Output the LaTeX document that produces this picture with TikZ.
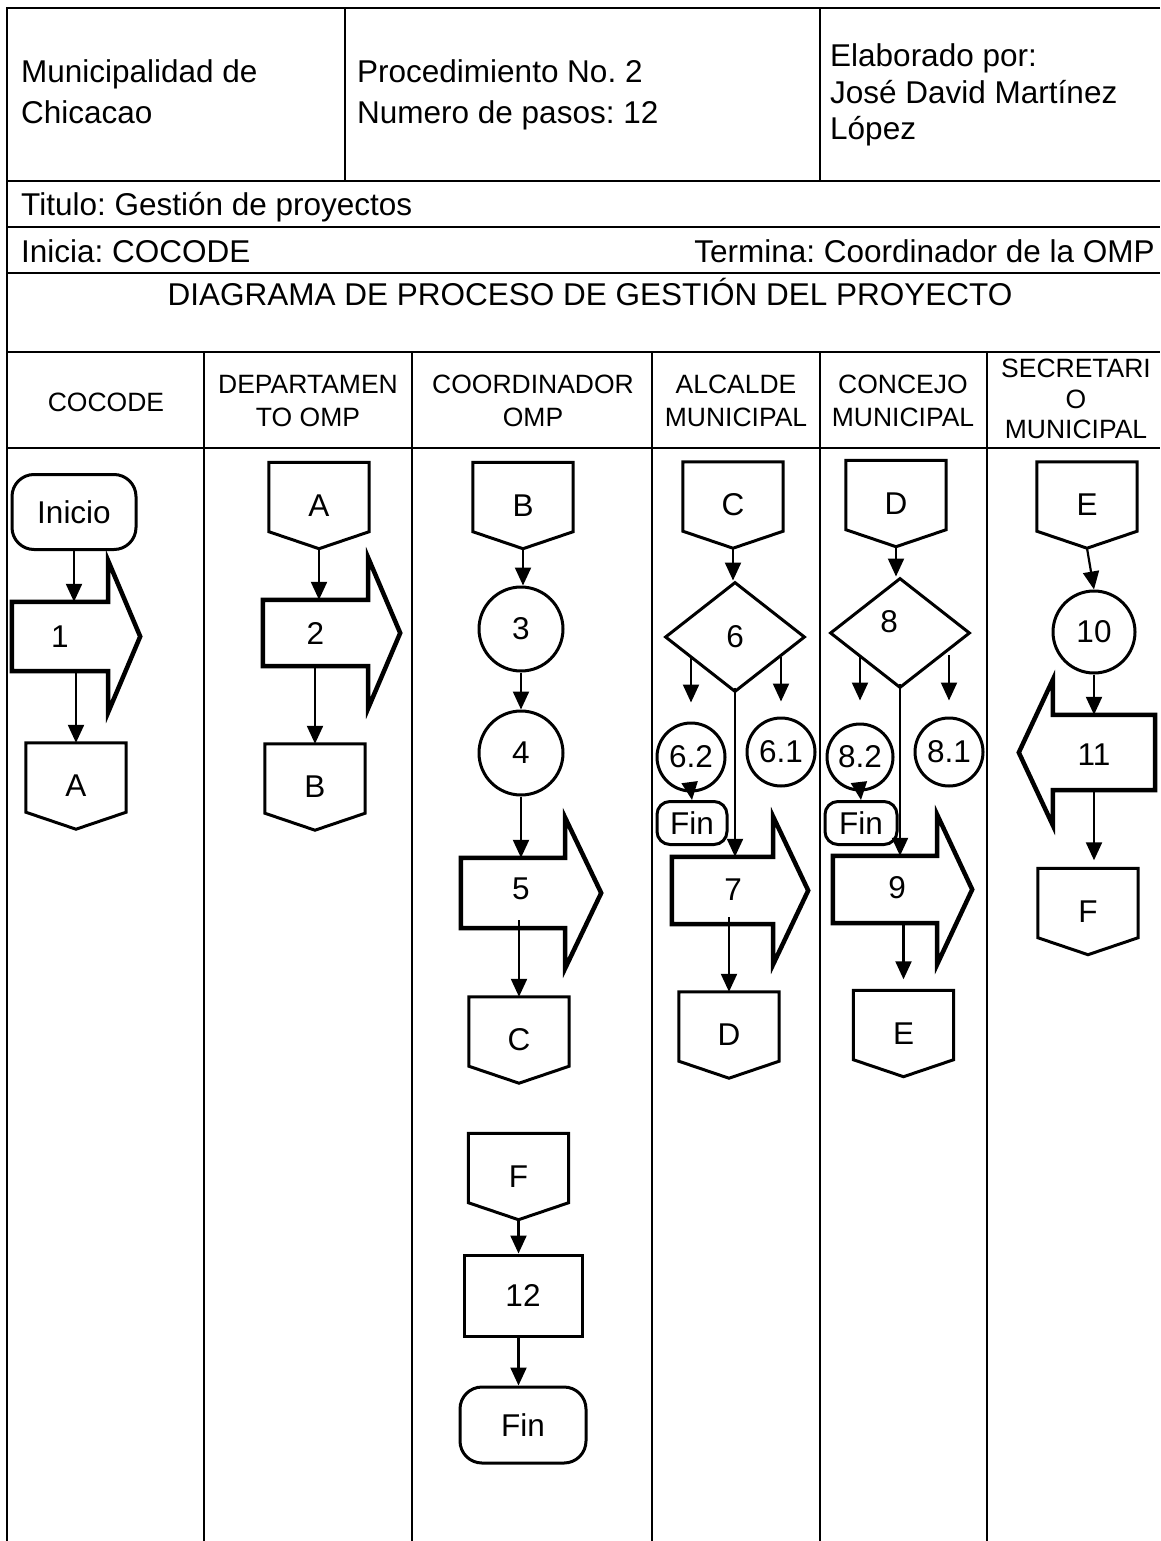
\documentclass[tikz,border=0pt]{standalone}
\usepackage{fontspec}
\setmainfont{Liberation Sans}
\usetikzlibrary{arrows.meta,shapes.geometric}
\frenchspacing
\newcommand\fbig{\fontsize{31.5}{36}\selectfont}
\newcommand\fhd{\fontsize{26.5}{32.5}\selectfont}
\newcommand\fhdb{\fontsize{26.5}{30.5}\selectfont}
\newcommand\offpg[1]{\draw[shp] (#1.north west) -- (#1.north east) -- ([yshift=17pt]#1.south east) -- (#1.south) -- ([yshift=17pt]#1.south west) -- cycle;}
\newcommand\rarr[3]{\draw[bigline] (#1.north west) -- (#1.north east) -- ([yshift=#2]#1.north east) -- ([xshift=#3]#1.east) -- ([yshift=-#2]#1.south east) -- (#1.south east) -- (#1.south west) -- cycle;}
\newcommand\larr[3]{\draw[bigline] (#1.north east) -- (#1.north west) -- ([yshift=#2]#1.north west) -- ([xshift=-#3]#1.west) -- ([yshift=-#2]#1.south west) -- (#1.south west) -- (#1.south east) -- cycle;}
\begin{document}
\begin{tikzpicture}[x=1pt,y=-1pt,
 tbl/.style={line width=2.4pt},
 shp/.style={line width=3pt, line join=miter},
 bigline/.style={line width=4.5pt, line join=miter},
 arr/.style={line width=2.2pt,-{Triangle[length=18pt,width=16pt]}},
 txt/.style={font=\fbig, inner sep=0pt},
 hd/.style={font=\fhd, align=center, inner sep=0pt},
 term/.style={draw, line width=3pt, rounded corners=22pt, inner sep=0pt, font=\fbig},
 offp/.style={inner sep=0pt, minimum width=100pt, minimum height=86pt, font=\fbig},
 circ/.style={circle, draw, line width=3pt, inner sep=0pt, font=\fbig},
 dia/.style={diamond, draw, line width=3pt, inner sep=0pt, minimum width=140pt, minimum height=110pt, font=\fbig},
 barrow/.style={inner sep=0pt, font=\fbig},
 box/.style={draw, line width=3pt, inner sep=0pt, font=\fbig}]
\useasboundingbox (0,0) rectangle (1160,1541);

% ---- table ----
\draw[tbl] (1160,8) -- (7,8) -- (7,1541);
\draw[tbl] (345,8) -- (345,181);
\draw[tbl] (820,8) -- (820,181);
\foreach \yy in {181,227,273,352,448} \draw[tbl] (7,\yy) -- (1160,\yy);
\foreach \xx in {204,412,652,820,987} \draw[tbl] (\xx,352) -- (\xx,1541);

% ---- header texts ----
\node[txt, anchor=base west] (h1a) at (21,83) {Municipalidad de};
\node[txt, anchor=base west] (h1b) at (21,124) {Chicacao};
\node[txt, anchor=base west] (h2a) at (357,83) {Procedimiento No. 2};
\node[txt, anchor=base west] (h2b) at (357,124) {Numero de pasos: 12};
\node[txt, anchor=base west] (h3a) at (830,67) {Elaborado por:};
\node[txt, anchor=base west] (h3b) at (830,104) {José David Martínez};
\node[txt, anchor=base west] (h3c) at (830,140) {López};
\node[txt, anchor=base west] (tit) at (21,215) {Titulo: Gestión de proyectos};
\node[txt, anchor=base west] (ini) at (21,262) {Inicia: COCODE};
\node[txt, anchor=base east] (ter) at (1155,262) {Termina: Coordinador de la OMP};
\node[txt, anchor=base] (diag) at (590,305) {DIAGRAMA DE PROCESO DE GESTIÓN DEL PROYECTO};

% ---- column headers ----
\node[hd] (col1) at (106,402) {COCODE};
\node[hd] (col2) at (308,401) {DEPARTAMEN\\TO OMP};
\node[hd] (col3) at (533,401) {COORDINADOR\\OMP};
\node[hd] (col4) at (736,401) {ALCALDE\\MUNICIPAL};
\node[hd] (col5) at (903,401) {CONCEJO\\MUNICIPAL};
\node[hd, font=\fhdb] (col6) at (1076,399) {SECRETARI\\O\\MUNICIPAL};

% ---- COCODE ----
\node[term, minimum width=124pt, minimum height=75pt] (inicio) at (74,512) {Inicio};
\node[barrow, minimum width=96pt, minimum height=69pt] (a1) at (60,636.5) {1};
\rarr{a1}{41pt}{32pt}
\node[offp] (A1) at (76,786) {A};
\offpg{A1}
\draw[arr] (inicio.south) -- (inicio.south |- a1.north);
\draw[arr] (A1.north |- a1.south) -- (A1.north);

% ---- DEPARTAMENTO OMP ----
\node[offp] (A2) at (319,505.5) {A};
\offpg{A2}
\node[barrow, minimum width=105pt, minimum height=66pt] (a2) at (315.5,633) {2};
\rarr{a2}{42pt}{32pt}
\node[offp] (B1) at (315,787) {B};
\offpg{B1}
\draw[arr] (A2.south) -- (A2.south |- a2.north);
\draw[arr] (B1.north |- a2.south) -- (B1.north);

% ---- COORDINADOR OMP ----
\node[offp] (B2) at (523,505.5) {B};
\offpg{B2}
\node[circ, minimum size=84pt] (c3) at (521,629) {3};
\node[circ, minimum size=84pt] (c4) at (521,753) {4};
\node[barrow, minimum width=104pt, minimum height=70pt] (a5) at (513,893) {};
\node[txt] (t5) at (521,889) {5};
\rarr{a5}{40pt}{36pt}
\node[offp] (C1) at (519,1040) {C};
\offpg{C1}
\node[offp] (F1) at (518.5,1176.5) {F};
\offpg{F1}
\node[box, minimum width=118pt, minimum height=81pt] (r12) at (523,1295.5) {12};
\node[term, minimum width=126pt, minimum height=76pt] (fin) at (523,1425) {Fin};
\draw[arr] (B2.south) -- (B2.south |- c3.north);
\draw[arr] (c3.south) -- (c4.north);
\draw[arr] (c4.south) -- (c4.south |- a5.north);
\draw[arr] ([yshift=8pt]C1.north |- a5.south) -- (C1.north);
\draw[arr] (F1.south) -- (F1.south |- r12.north);
\draw[arr] (F1.south |- r12.south) -- (F1.south |- fin.north);

% ---- ALCALDE MUNICIPAL ----
\node[offp] (C2) at (733,505) {C};
\offpg{C2}
\node[dia] (d6) at (735,637) {6};
\node[circ, minimum size=68pt] (c62) at (691,757) {6.2};
\node[circ, minimum size=68pt] (c61) at (781,752) {6.1};
\node[term, rounded corners=13pt, minimum width=70pt, minimum height=43pt] (f6) at (692,823) {Fin};
\node[barrow, minimum width=101pt, minimum height=67pt] (a7) at (722.5,890.5) {};
\node[txt] (t7) at (733,890) {7};
\rarr{a7}{40pt}{35pt}
\node[offp] (D1) at (729,1035) {D};
\offpg{D1}
\draw[arr] (C2.south) -- (C2.south |- d6.north);
\draw[arr, shorten >=19pt] ([yshift=-20pt]c62.north |- d6.west) -- (c62.north);
\draw[arr, shorten >=15pt] ([yshift=-20pt]c61.north |- d6.east) -- (c61.north);
\draw[arr] (c62.south) -- (f6.north);
\draw[arr] ([yshift=6pt]d6.south) -- (d6.south |- a7.north);
\draw[arr] ([yshift=7pt]D1.north |- a7.south) -- (D1.north);

% ---- CONCEJO MUNICIPAL ----
\node[offp] (D2) at (896,503.5) {D};
\offpg{D2}
\node[dia] (d8) at (900,633) {};
\node[txt] (t8) at (889,622) {8};
\node[circ, minimum size=66pt] (c82) at (860,757) {8.2};
\node[circ, minimum size=68pt] (c81) at (949,752) {8.1};
\node[term, rounded corners=13pt, minimum width=72pt, minimum height=43pt] (f8) at (861,823) {Fin};
\node[barrow, minimum width=104pt, minimum height=67pt] (a9) at (885,889.5) {};
\node[txt] (t9) at (897,888) {9};
\rarr{a9}{41pt}{35pt}
\node[offp] (E1) at (903.5,1033.5) {E};
\offpg{E1}
\draw[arr] (D2.south) -- (D2.south |- d8.north);
\draw[arr, shorten >=22pt] ([yshift=-22pt]c82.north |- d8.west) -- (c82.north);
\draw[arr, shorten >=16pt] ([yshift=-22pt]c81.north |- d8.east) -- (c81.north);
\draw[arr] (c82.south) -- (f8.north);
\draw[arr] ([yshift=6pt]d8.south) -- (d8.south |- a9.north);
\draw[arr, shorten >=11pt] (E1.north |- a9.south) -- (E1.north);

% ---- SECRETARIO MUNICIPAL ----
\node[offp] (E2) at (1087,505) {E};
\offpg{E2}
\node[circ, minimum size=82pt] (c10) at (1094,632) {10};
\node[barrow, minimum width=102pt, minimum height=75pt] (a11) at (1104,752.5) {};
\node[txt] (t11) at (1094,755) {11};
\larr{a11}{35pt}{34pt}
\node[offp] (F2) at (1088,911.5) {F};
\offpg{F2}
\draw[arr] (E2.south) -- (c10.north);
\draw[arr] (c10.south) -- (c10.south |- a11.north);
\draw[arr, shorten >=8pt] (c10.south |- a11.south) -- (c10.south |- F2.north);
\end{tikzpicture}
\end{document}
